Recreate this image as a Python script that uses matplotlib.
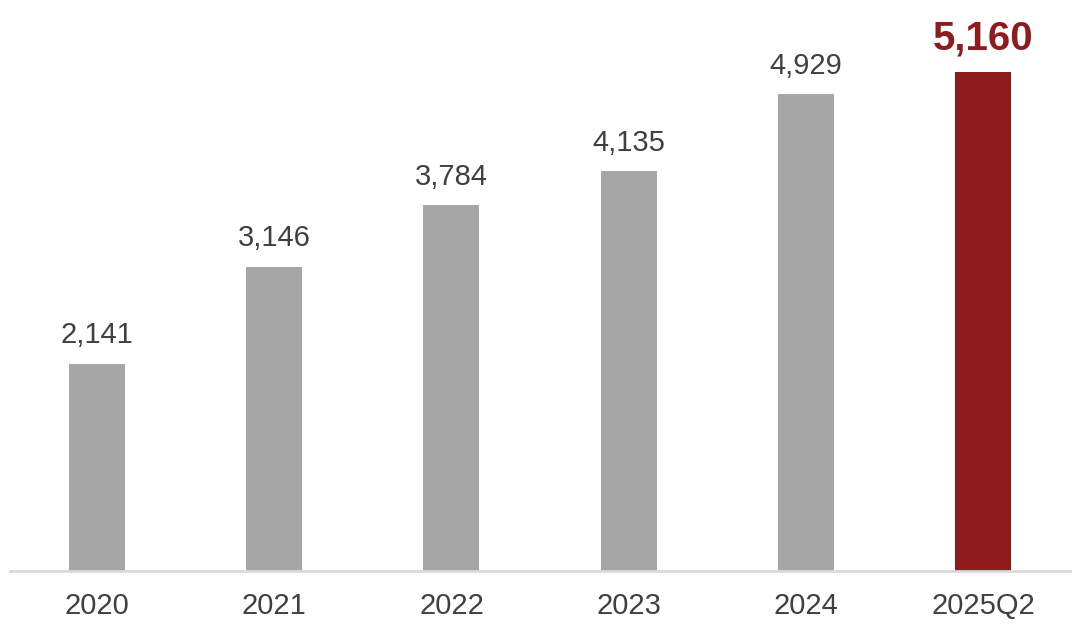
import matplotlib
matplotlib.use("Agg")
import matplotlib.pyplot as plt

categories = ["2020", "2021", "2022", "2023", "2024", "2025Q2"]
values = [2141, 3146, 3784, 4135, 4929, 5160]
labels = ["2,141", "3,146", "3,784", "4,135", "4,929", "5,160"]

plt.rcParams['font.family'] = ['Liberation Sans', 'DejaVu Sans']

fig = plt.figure(figsize=(10.8, 6.27), dpi=100)
ax = fig.add_axes([10/1080, 56/627, 1060/1080, 571/627])

colors = ["#A6A6A6"] * 5 + ["#8E1B1E"]
x = list(range(len(categories)))
ax.bar(x, values, width=0.316, color=colors)

for i, (v, lab) in enumerate(zip(values, labels)):
    if i == len(values) - 1:
        ax.annotate(lab, (i, v), xytext=(0, 10.5), textcoords="offset points",
                    ha="center", va="bottom", fontsize=29, fontweight="bold", color="#8E1B1E")
    else:
        ax.annotate(lab, (i, v), xytext=(0, 10.5), textcoords="offset points",
                    ha="center", va="bottom", fontsize=21, color="#404040")

ax.set_xlim(-0.491, 5.49)
ax.set_ylim(0, 5905)
ax.set_xticks(x)
ax.set_xticklabels(categories, fontsize=21, color="#404040")
ax.tick_params(axis="x", length=0, pad=15)
ax.set_yticks([])
for s in ["top", "right", "left"]:
    ax.spines[s].set_visible(False)
ax.spines["bottom"].set_color("#D9D9D9")
ax.spines["bottom"].set_linewidth(2)

fig.savefig("out.png", dpi=100)
